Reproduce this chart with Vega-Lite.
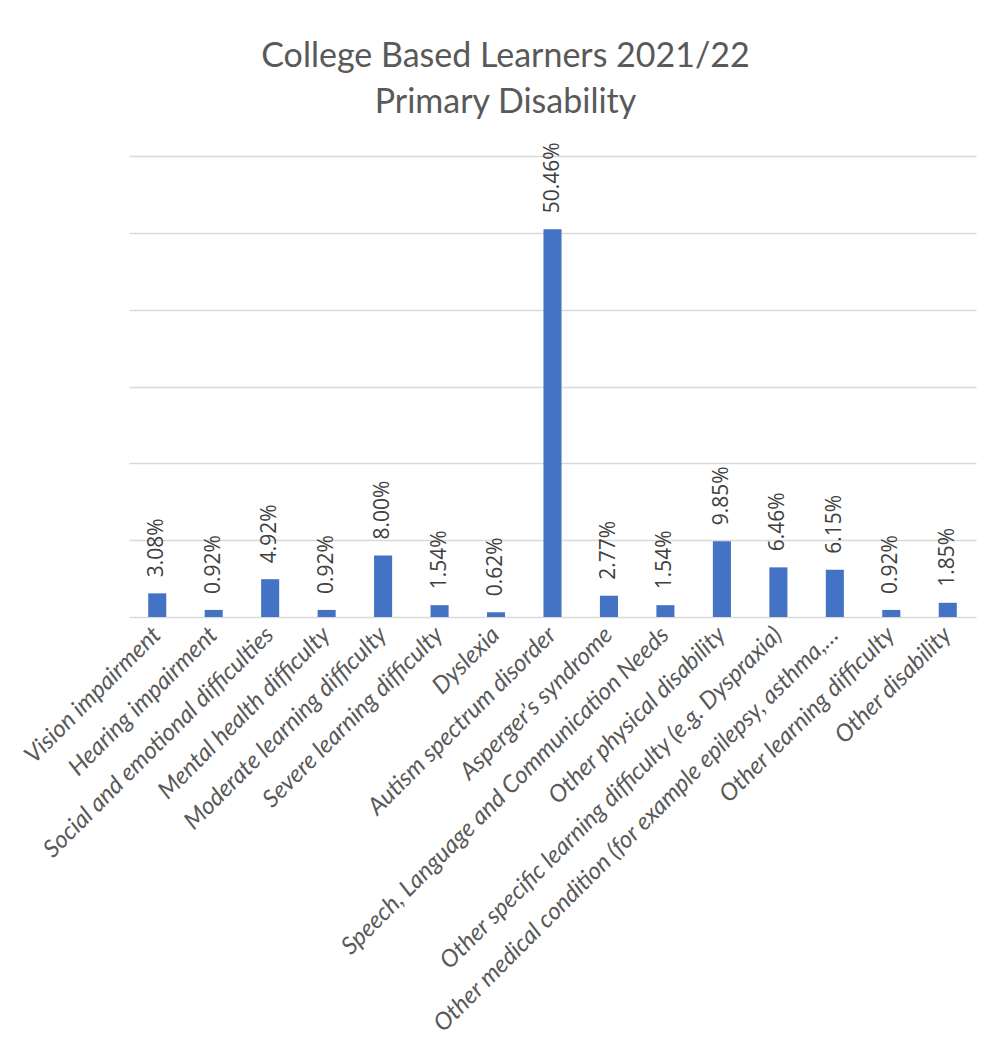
{
  "$schema": "https://vega.github.io/schema/vega-lite/v6.json",
  "autosize": "none",
  "width": 847,
  "height": 461,
  "padding": {"left": 129, "top": 156, "right": 17, "bottom": 428},
  "background": "white",
  "title": {
    "text": ["College Based Learners 2021/22", "Primary Disability"],
    "anchor": "middle",
    "frame": "group",
    "dx": -47,
    "offset": 22,
    "font": "Lato",
    "fontSize": 34,
    "fontWeight": "normal",
    "color": "#595959",
    "lineHeight": 46
  },
  "data": {
    "values": [
      {"category": "Vision impairment", "share": 0.0308},
      {"category": "Hearing impairment", "share": 0.0092},
      {"category": "Social and emotional difficulties", "share": 0.0492},
      {"category": "Mental health difficulty", "share": 0.0092},
      {"category": "Moderate learning difficulty", "share": 0.08},
      {"category": "Severe learning difficulty", "share": 0.0154},
      {"category": "Dyslexia", "share": 0.0062},
      {"category": "Autism spectrum disorder", "share": 0.5046},
      {"category": "Asperger’s syndrome", "share": 0.0277},
      {"category": "Speech, Language and Communication Needs", "share": 0.0154},
      {"category": "Other physical disability", "share": 0.0985},
      {"category": "Other specific learning difficulty (e.g. Dyspraxia)", "share": 0.0646},
      {"category": "Other medical condition (for example epilepsy, asthma,…", "share": 0.0615},
      {"category": "Other learning difficulty", "share": 0.0092},
      {"category": "Other disability", "share": 0.0185}
    ]
  },
  "encoding": {
    "x": {
      "field": "category",
      "type": "nominal",
      "sort": null,
      "scale": {"paddingInner": 0.68, "paddingOuter": 0.34},
      "axis": {
        "title": null,
        "labelAngle": -45,
        "labelAlign": "right",
        "labelBaseline": "middle",
        "labelPadding": 14,
        "labelFont": "Lato",
        "labelFontStyle": "italic",
        "labelFontSize": 24,
        "labelColor": "#595959",
        "labelLimit": 0,
        "ticks": false,
        "domainColor": "#D9D9D9",
        "domainWidth": 1.5
      }
    },
    "y": {
      "field": "share",
      "type": "quantitative",
      "scale": {"domain": [0, 0.6], "nice": false},
      "axis": {
        "title": null,
        "labels": false,
        "ticks": false,
        "domain": false,
        "values": [0.1, 0.2, 0.3, 0.4, 0.5, 0.6],
        "gridColor": "#D9D9D9",
        "gridWidth": 1.5,
        "minExtent": 0,
        "maxExtent": 0
      }
    }
  },
  "layer": [
    {"mark": {"type": "bar", "color": "#4472C4"}},
    {
      "mark": {
        "type": "text",
        "angle": 270,
        "align": "left",
        "baseline": "middle",
        "dx": 16,
        "font": "Open Sans",
        "fontSize": 21,
        "color": "#404040"
      },
      "encoding": {
        "text": {"field": "share", "type": "quantitative", "format": ".2%"}
      }
    }
  ],
  "config": {
    "view": {"stroke": null}
  }
}
